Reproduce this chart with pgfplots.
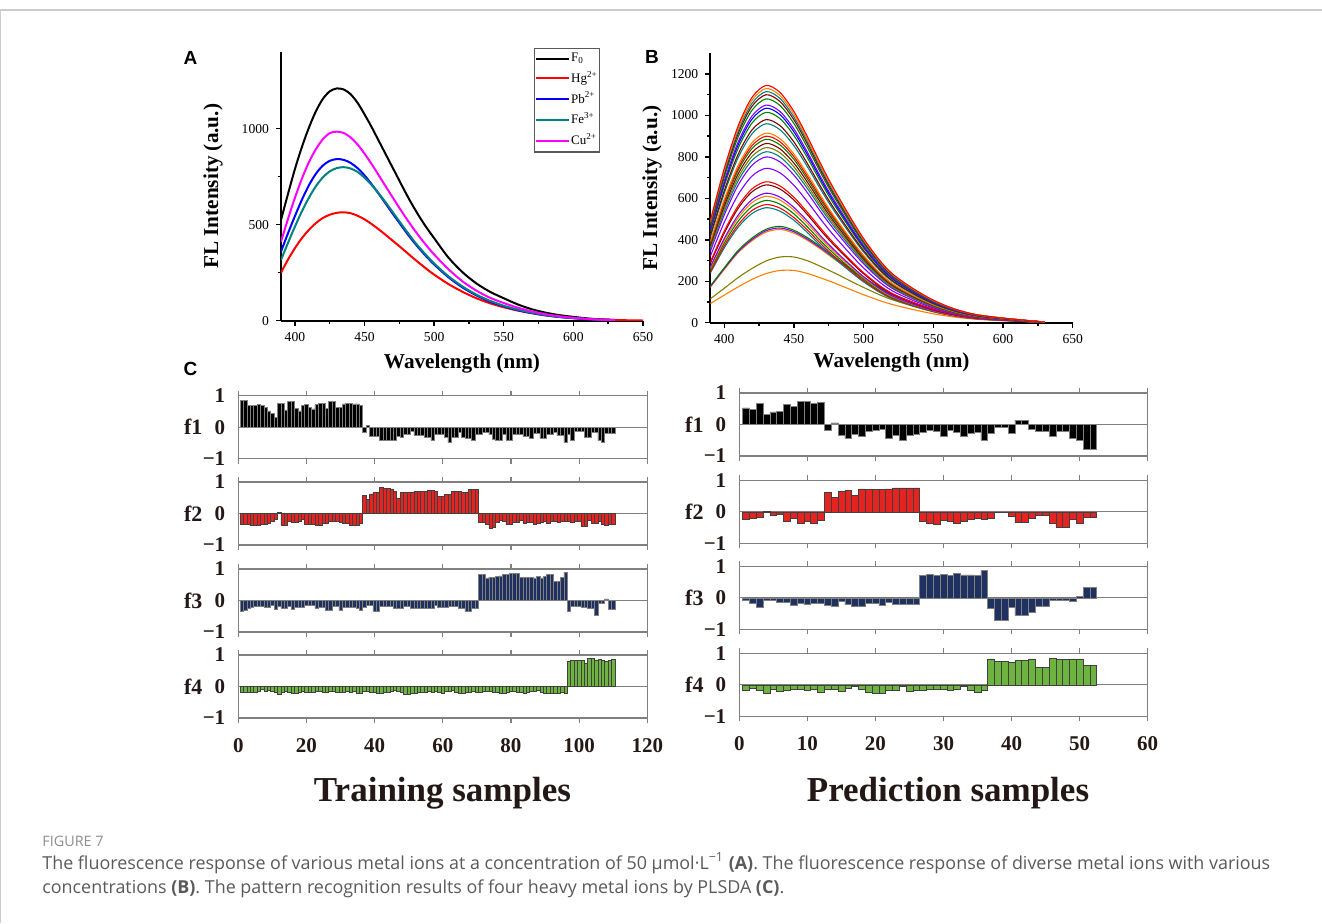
\documentclass[border=0pt]{standalone}
\usepackage{fontspec}
\setmainfont{Liberation Serif}
\newfontfamily\sansfam{Liberation Sans}
\newfontfamily\capfont{Open Sans}
\usepackage{pgfplots}
\pgfplotsset{compat=1.18}
\usepackage{pgfplotstable}

\definecolor{txt}{HTML}{231815}
\definecolor{capgray}{HTML}{5A5A5A}
\definecolor{figgray}{HTML}{8C8C8C}
\definecolor{oRed}{HTML}{FF0000}
\definecolor{oTeal}{HTML}{008080}
\definecolor{oGreen}{HTML}{008000}
\definecolor{oViolet}{HTML}{8000FF}
\definecolor{oWine}{HTML}{800000}
\definecolor{oOrange}{HTML}{FF8000}
\definecolor{oOlive}{HTML}{808000}
\definecolor{oBlue}{HTML}{0000FF}
\definecolor{oMag}{HTML}{FF00FF}
\definecolor{fRed}{HTML}{E52421}
\definecolor{fNavy}{HTML}{1E3160}
\definecolor{fGreen}{HTML}{6DB33F}

% panel A: emission spectra, 50 umol/L
\pgfplotstableread{
w   F0   Hg  Pb  Fe  Cu
390 525  250 360 316 412
395 660  318 455 405 530
400 790  378 545 490 640
405 905  430 630 570 740
410 1005 473 705 640 825
415 1090 508 765 700 893
420 1155 535 808 746 945
425 1195 552 833 778 977
430 1210 562 842 795 985
435 1205 565 838 800 978
440 1180 560 822 793 955
445 1135 547 795 775 918
450 1075 528 757 745 870
455 1010 504 712 708 817
460 940  477 663 665 760
465 870  448 612 618 702
470 800  418 560 568 645
475 730  388 510 518 588
480 660  357 460 468 533
485 595  326 413 420 481
490 535  296 370 376 432
495 480  267 330 336 387
500 430  240 293 298 345
510 331  192 228 233 270
520 255  152 175 180 207
530 196  118 133 137 158
540 151  91  100 104 120
550 117  70  75  78  92
560 85   53  55  58  68
570 60   39  40  42  49
580 42   28  28  30  34
590 29   20  19  20  23
600 20   14  13  14  15
610 12   9   8   9   9
620 7    6   5   5   5
630 4    4   3   3   3
640 nan  2   nan nan nan
650 nan  1   nan nan nan
}\dataA

% panel C: PLSDA scores, training samples
\pgfplotstableread{
n f1 f2 f3 f4
1 0.86 -0.35 -0.33 -0.17
2 0.86 -0.35 -0.30 -0.18
3 0.68 -0.35 -0.24 -0.18
4 0.70 -0.36 -0.20 -0.17
5 0.70 -0.37 -0.18 -0.18
6 0.72 -0.37 -0.18 -0.16
7 0.68 -0.35 -0.18 -0.09
8 0.62 -0.35 -0.20 -0.15
9 0.52 -0.30 -0.20 -0.12
10 0.45 -0.24 -0.14 -0.14
11 0.32 -0.18 -0.29 -0.19
12 0.75 0.03 -0.18 -0.24
13 0.75 -0.37 -0.24 -0.17
14 0.55 -0.37 -0.24 -0.15
15 0.82 -0.25 -0.18 -0.18
16 0.82 -0.29 -0.29 -0.20
17 0.60 -0.29 -0.22 -0.20
18 0.52 -0.24 -0.22 -0.19
19 0.70 -0.18 -0.22 -0.16
20 0.72 -0.35 -0.16 -0.17
21 0.64 -0.35 -0.15 -0.18
22 0.58 -0.35 -0.15 -0.18
23 0.72 -0.37 -0.24 -0.15
24 0.76 -0.38 -0.22 -0.16
25 0.76 -0.30 -0.22 -0.18
26 0.60 -0.30 -0.30 -0.18
27 0.82 -0.25 -0.30 -0.16
28 0.82 -0.25 -0.18 -0.14
29 0.62 -0.26 -0.18 -0.17
30 0.62 -0.27 -0.30 -0.18
31 0.74 -0.30 -0.20 -0.19
32 0.76 -0.30 -0.20 -0.15
33 0.76 -0.38 -0.20 -0.17
34 0.74 -0.38 -0.21 -0.16
35 0.74 -0.36 -0.25 -0.20
36 0.70 -0.32 -0.30 -0.21
37 -0.15 0.58 -0.22 -0.15
38 0.06 0.45 -0.15 -0.14
39 -0.28 0.62 -0.16 -0.18
40 -0.30 0.68 -0.33 -0.19
41 -0.30 0.68 -0.33 -0.21
42 -0.42 0.82 -0.18 -0.20
43 -0.42 0.80 -0.18 -0.17
44 -0.42 0.79 -0.18 -0.18
45 -0.42 0.78 -0.18 -0.15
46 -0.40 0.70 -0.24 -0.12
47 -0.28 0.48 -0.24 -0.16
48 -0.32 0.68 -0.24 -0.18
49 -0.24 0.66 -0.18 -0.25
50 -0.24 0.67 -0.18 -0.26
51 -0.13 0.66 -0.24 -0.22
52 -0.26 0.70 -0.24 -0.21
53 -0.26 0.70 -0.24 -0.18
54 -0.26 0.70 -0.24 -0.17
55 -0.33 0.70 -0.24 -0.19
56 -0.33 0.74 -0.26 -0.16
57 -0.42 0.73 -0.26 -0.17
58 -0.22 0.70 -0.15 -0.15
59 -0.22 0.54 -0.22 -0.18
60 -0.24 0.54 -0.22 -0.20
61 -0.33 0.60 -0.22 -0.16
62 -0.48 0.60 -0.18 -0.14
63 -0.33 0.71 -0.18 -0.12
64 -0.33 0.71 -0.18 -0.19
65 -0.15 0.70 -0.24 -0.21
66 -0.32 0.66 -0.24 -0.20
67 -0.35 0.66 -0.33 -0.18
68 -0.35 0.76 -0.33 -0.17
69 -0.42 0.76 -0.24 -0.15
70 -0.24 0.76 -0.24 -0.18
71 -0.24 -0.29 0.83 -0.17
72 -0.15 -0.29 0.83 -0.16
73 -0.15 -0.35 0.72 -0.14
74 -0.24 -0.47 0.74 -0.16
75 -0.37 -0.45 0.74 -0.17
76 -0.40 -0.29 0.76 -0.19
77 -0.40 -0.22 0.78 -0.21
78 -0.22 -0.24 0.83 -0.20
79 -0.40 -0.35 0.83 -0.17
80 -0.40 -0.35 0.85 -0.16
81 -0.22 -0.28 0.87 -0.14
82 -0.22 -0.28 0.87 -0.17
83 -0.22 -0.22 0.74 -0.18
84 -0.30 -0.30 0.74 -0.20
85 -0.30 -0.28 0.74 -0.19
86 -0.35 -0.28 0.74 -0.16
87 -0.20 -0.35 0.72 -0.15
88 -0.20 -0.30 0.77 -0.13
89 -0.35 -0.28 0.72 -0.18
90 -0.35 -0.26 0.77 -0.20
91 -0.22 -0.30 0.83 -0.21
92 -0.22 -0.26 0.83 -0.20
93 -0.15 -0.26 0.61 -0.20
94 -0.26 -0.29 0.61 -0.21
95 -0.26 -0.26 0.74 -0.18
96 -0.48 -0.25 0.90 -0.20
97 -0.24 -0.24 -0.33 0.80
98 -0.40 -0.28 -0.18 0.84
99 -0.13 -0.24 -0.18 0.84
100 -0.13 -0.24 -0.18 0.84
101 -0.13 -0.40 -0.22 0.84
102 -0.33 -0.40 -0.22 0.73
103 -0.33 -0.22 -0.24 0.88
104 -0.15 -0.32 -0.26 0.88
105 -0.15 -0.32 -0.46 0.84
106 -0.43 -0.24 -0.10 0.86
107 -0.48 -0.34 -0.10 0.84
108 -0.20 -0.36 0.05 0.80
109 -0.20 -0.34 -0.27 0.84
110 -0.20 -0.34 -0.27 0.86
}\dataT

% panel C: PLSDA scores, prediction samples
\pgfplotstableread{
n f1 f2 f3 f4
1 0.53 -0.25 -0.08 -0.17
2 0.47 -0.20 -0.16 -0.10
3 0.68 -0.16 -0.29 -0.18
4 0.33 0.02 -0.08 -0.26
5 0.40 -0.12 -0.09 -0.15
6 0.42 -0.09 -0.13 -0.20
7 0.64 -0.30 -0.14 -0.17
8 0.58 -0.20 -0.24 -0.13
9 0.73 -0.36 -0.19 -0.15
10 0.73 -0.30 -0.22 -0.18
11 0.67 -0.36 -0.19 -0.13
12 0.71 -0.27 -0.19 -0.23
13 -0.18 0.62 -0.25 -0.15
14 0.05 0.46 -0.27 -0.15
15 -0.33 0.65 -0.11 -0.20
16 -0.43 0.67 -0.22 -0.12
17 -0.30 0.51 -0.27 -0.04
18 -0.38 0.73 -0.27 -0.15
19 -0.20 0.70 -0.19 -0.24
20 -0.18 0.72 -0.18 -0.26
21 -0.16 0.71 -0.24 -0.26
22 -0.43 0.73 -0.14 -0.17
23 -0.33 0.76 -0.22 -0.19
24 -0.49 0.76 -0.22 -0.06
25 -0.33 0.76 -0.22 -0.20
26 -0.30 0.76 -0.22 -0.18
27 -0.24 -0.30 0.70 -0.17
28 -0.18 -0.38 0.75 -0.13
29 -0.20 -0.39 0.70 -0.15
30 -0.36 -0.27 0.75 -0.13
31 -0.18 -0.30 0.70 -0.18
32 -0.24 -0.38 0.77 -0.15
33 -0.36 -0.30 0.73 -0.06
34 -0.27 -0.23 0.73 -0.18
35 -0.25 -0.20 0.70 -0.23
36 -0.49 -0.23 0.88 -0.17
37 -0.27 -0.22 -0.32 0.82
38 -0.09 0 -0.70 0.74
39 -0.09 0 -0.70 0.74
40 -0.27 -0.14 -0.30 0.71
41 0.14 -0.34 -0.54 0.78
42 0.14 -0.34 -0.54 0.78
43 -0.16 -0.20 -0.45 0.82
44 -0.22 -0.12 -0.27 0.55
45 -0.22 -0.12 -0.27 0.55
46 -0.36 -0.36 -0.09 0.85
47 -0.22 -0.49 -0.08 0.80
48 -0.22 -0.49 -0.08 0.80
49 -0.43 -0.25 -0.11 0.82
50 -0.49 -0.36 0.05 0.82
51 -0.79 -0.17 0.32 0.62
52 -0.79 -0.17 0.32 0.62
}\dataP

\pgfplotsset{
  spec/.style={
    scale only axis, anchor=south west,
    xmin=390, xmax=650, xtick={400,450,...,650}, minor x tick num=1,
    ymin=0,
    axis lines=left, axis line style={-, line width=0.9pt},
    tick align=outside, major tick length=2.5pt, minor tick length=1.5pt,
    tick style={black, line width=0.7pt},
    tick label style={font=\fontsize{6.8}{8}\selectfont},
    /pgf/number format/assume math mode=true,
    /pgf/number format/1000 sep={},
    label style={font=\fontsize{10.6}{12}\selectfont\bfseries},
    xlabel={Wavelength (nm)}, ylabel={FL Intensity (a.u.)},
  },
  pls/.style={
    scale only axis, anchor=south west, height=31.5pt,
    ymin=-1, ymax=1, ytick={-1,0,1}, yticklabels={−1,0,1},
    ytick style={draw=none},
    axis line style={gray, line width=0.6pt},
    tick align=inside, xtick style={gray, line width=0.6pt}, major tick length=2.5pt,
    tick label style={font=\fontsize{10.5}{11}\selectfont\bfseries, text=txt},
    yticklabel style={xshift=-3pt},
    xticklabel style={yshift=-4pt},
    /pgf/number format/assume math mode=true,
    extra y ticks={0}, extra y tick labels={},
    extra y tick style={grid=major, major grid style={draw=gray, line width=0.5pt}},
    ybar, bar width=1,
    every axis y label/.style={at={(rel axis cs:-0.11,0.5)}, anchor=center,
      font=\fontsize{11}{12}\selectfont\bfseries, text=txt},
  },
  tleft/.style={pls, width=204.5pt, xmin=0, xmax=120, xtick={0,20,...,120}},
  pright/.style={pls, width=204.2pt, xmin=0, xmax=60, xtick={0,10,...,60}},
}

\begin{document}
\begin{tikzpicture}
\path[use as bounding box] (0,0) rectangle (661pt,461.5pt);
\draw[gray!40, line width=0.6pt] (0,456.5pt) -- (661pt,456.5pt);
\draw[gray!40, line width=0.6pt] (0.3pt,0) -- (0.3pt,456.5pt);

% ---- A ----
\begin{axis}[spec, at={(140.5pt,301.15pt)}, width=181pt, height=134.35pt,
  ymax=1400, ytick={0,500,1000}, minor y tick num=1,
  xlabel style={at={(axis description cs:0.5,-0.16)}, anchor=center},
  ylabel style={at={(axis description cs:-0.188,0.5)}, anchor=center},
  legend style={at={(0.881,1.015)}, anchor=north east, draw=gray!70!black,
    line width=0.6pt, font=\fontsize{6.5}{7}\selectfont,
    inner xsep=0pt, inner ysep=1.5pt, row sep=2.2pt, column sep=0pt,
    nodes={inner xsep=0.8pt, inner ysep=0.6pt}, cells={anchor=west}},
  legend image code/.code={\draw[#1, line width=1pt] (-0.02cm,0cm) -- (0.56cm,0cm);},
]
\addplot[black, line width=1pt, smooth] table[x=w, y=F0] {\dataA};
\addplot[oRed, line width=1pt, smooth] table[x=w, y=Hg] {\dataA};
\addplot[oBlue, line width=1pt, smooth] table[x=w, y=Pb] {\dataA};
\addplot[oTeal, line width=1pt, smooth] table[x=w, y=Fe] {\dataA};
\addplot[oMag, line width=1pt, smooth] table[x=w, y=Cu] {\dataA};
\legend{F\textsubscript{0}, Hg\textsuperscript{2+}, Pb\textsuperscript{2+}, Fe\textsuperscript{3+}, Cu\textsuperscript{2+}}
\end{axis}

% ---- B ----
\begin{axis}[spec, at={(355.15pt,300.15pt)}, width=181.2pt, height=134.7pt,
  ymax=1300, ytick={0,200,...,1200}, minor y tick num=1,
  xlabel style={at={(axis description cs:0.5,-0.146)}, anchor=center},
  ylabel style={at={(axis description cs:-0.161,0.5)}, anchor=center},
  every axis plot/.append style={line width=0.55pt, smooth},
]
\addplot[oOrange] coordinates {(390,92)(400,133)(410,173)(420,209)(430,237)(440,252)(450,252)(460,237)(470,214)(480,189)(500,135)(520,89)(550,43)(580,17)(630,2)};
\addplot[oOlive] coordinates {(390,115)(400,166)(410,218)(420,262)(430,298)(440,317)(450,317)(460,298)(470,269)(480,237)(500,170)(520,112)(550,54)(580,21)(630,2)};
\addplot[oOrange] coordinates {(390,171)(400,257)(410,338)(420,396)(430,437)(440,450)(450,432)(460,396)(470,351)(480,302)(500,212)(520,135)(550,63)(580,23)(630,2)};
\addplot[oViolet] coordinates {(390,174)(400,261)(410,343)(420,402)(430,444)(440,457)(450,439)(460,402)(470,357)(480,307)(500,215)(520,137)(550,64)(580,23)(630,2)};
\addplot[oGreen] coordinates {(390,177)(400,265)(410,349)(420,409)(430,451)(440,465)(450,446)(460,409)(470,363)(480,312)(500,219)(520,140)(550,65)(580,23)(630,2)};
\addplot[oTeal] coordinates {(390,239)(400,361)(410,461)(420,527)(430,555)(440,538)(450,494)(460,433)(470,366)(480,305)(500,197)(520,117)(550,53)(580,19)(630,2)};
\addplot[oRed] coordinates {(390,245)(400,371)(410,473)(420,542)(430,570)(440,553)(450,507)(460,445)(470,376)(480,314)(500,202)(520,120)(550,54)(580,20)(630,2)};
\addplot[oGreen] coordinates {(390,254)(400,384)(410,490)(420,561)(430,590)(440,572)(450,525)(460,460)(470,389)(480,325)(500,209)(520,124)(550,56)(580,21)(630,2)};
\addplot[oOrange] coordinates {(390,262)(400,397)(410,506)(420,580)(430,610)(440,592)(450,543)(460,476)(470,403)(480,336)(500,217)(520,128)(550,58)(580,21)(630,2)};
\addplot[oViolet] coordinates {(390,269)(400,406)(410,519)(420,594)(430,625)(440,606)(450,556)(460,488)(470,413)(480,344)(500,222)(520,131)(550,59)(580,22)(630,2)};
\addplot[oWine] coordinates {(390,286)(400,432)(410,552)(420,632)(430,665)(440,645)(450,592)(460,519)(470,439)(480,366)(500,236)(520,140)(550,63)(580,23)(630,2)};
\addplot[oRed] coordinates {(390,292)(400,442)(410,564)(420,646)(430,680)(440,660)(450,605)(460,530)(470,449)(480,374)(500,241)(520,143)(550,65)(580,24)(630,2)};
\addplot[oViolet] coordinates {(390,320)(400,484)(410,618)(420,708)(430,745)(440,723)(450,663)(460,581)(470,492)(480,410)(500,264)(520,156)(550,71)(580,26)(630,2)};
\addplot[oViolet] coordinates {(390,344)(400,520)(410,664)(420,760)(430,800)(440,776)(450,712)(460,624)(470,528)(480,440)(500,284)(520,168)(550,76)(580,28)(630,2)};
\addplot[oTeal] coordinates {(390,355)(400,536)(410,685)(420,784)(430,825)(440,800)(450,734)(460,644)(470,545)(480,454)(500,293)(520,173)(550,78)(580,29)(630,2)};
\addplot[oOlive] coordinates {(390,363)(400,549)(410,701)(420,803)(430,845)(440,820)(450,752)(460,659)(470,558)(480,465)(500,300)(520,177)(550,80)(580,30)(630,3)};
\addplot[oWine] coordinates {(390,372)(400,562)(410,718)(420,822)(430,865)(440,839)(450,770)(460,675)(470,571)(480,476)(500,307)(520,182)(550,82)(580,30)(630,3)};
\addplot[oGreen] coordinates {(390,381)(400,575)(410,735)(420,841)(430,885)(440,858)(450,788)(460,690)(470,584)(480,487)(500,314)(520,186)(550,84)(580,31)(630,3)};
\addplot[oRed] coordinates {(390,387)(400,585)(410,747)(420,855)(430,900)(440,873)(450,801)(460,702)(470,594)(480,495)(500,320)(520,189)(550,86)(580,32)(630,3)};
\addplot[oOrange] coordinates {(390,393)(400,595)(410,759)(420,869)(430,915)(440,888)(450,814)(460,714)(470,604)(480,503)(500,325)(520,192)(550,87)(580,32)(630,3)};
\addplot[oTeal] coordinates {(390,413)(400,624)(410,797)(420,912)(430,960)(440,931)(450,854)(460,749)(470,634)(480,528)(500,341)(520,202)(550,91)(580,34)(630,3)};
\addplot[oWine] coordinates {(390,421)(400,637)(410,813)(420,931)(430,980)(440,951)(450,872)(460,764)(470,647)(480,539)(500,348)(520,206)(550,93)(580,34)(630,3)};
\addplot[oGreen] coordinates {(390,436)(400,660)(410,842)(420,964)(430,1015)(440,985)(450,903)(460,792)(470,670)(480,558)(500,360)(520,213)(550,96)(580,36)(630,3)};
\addplot[oBlue] coordinates {(390,445)(400,673)(410,859)(420,983)(430,1035)(440,1004)(450,921)(460,807)(470,683)(480,569)(500,367)(520,217)(550,98)(580,36)(630,3)};
\addplot[oViolet] coordinates {(390,452)(400,683)(410,872)(420,998)(430,1050)(440,1019)(450,935)(460,819)(470,693)(480,578)(500,373)(520,221)(550,100)(580,37)(630,3)};
\addplot[oGreen] coordinates {(390,464)(400,702)(410,896)(420,1026)(430,1080)(440,1048)(450,961)(460,842)(470,713)(480,594)(500,383)(520,227)(550,103)(580,38)(630,3)};
\addplot[oWine] coordinates {(390,473)(400,715)(410,913)(420,1045)(430,1100)(440,1067)(450,979)(460,858)(470,726)(480,605)(500,391)(520,231)(550,105)(580,39)(630,3)};
\addplot[oTeal] coordinates {(390,479)(400,725)(410,925)(420,1059)(430,1115)(440,1082)(450,992)(460,870)(470,736)(480,613)(500,396)(520,234)(550,106)(580,39)(630,3)};
\addplot[oOrange] coordinates {(390,486)(400,735)(410,938)(420,1074)(430,1130)(440,1096)(450,1006)(460,881)(470,746)(480,622)(500,401)(520,237)(550,107)(580,40)(630,3)};
\addplot[oRed] coordinates {(390,492)(400,744)(410,950)(420,1088)(430,1145)(440,1111)(450,1019)(460,893)(470,756)(480,630)(500,406)(520,240)(550,109)(580,40)(630,3)};
\end{axis}

% ---- C: training ----
\begin{axis}[tleft, at={(119.15pt,232.15pt)}, xticklabels={}, ylabel={f1}]
\addplot[fill=black, draw=gray, line width=0.3pt] table[x=n, y=f1] {\dataT};
\end{axis}
\begin{axis}[tleft, at={(119.15pt,189pt)}, xticklabels={}, ylabel={f2}]
\addplot[fill=fRed, draw=black!75, line width=0.3pt] table[x=n, y=f2] {\dataT};
\end{axis}
\begin{axis}[tleft, at={(119.15pt,145.5pt)}, xticklabels={}, ylabel={f3}]
\addplot[fill=fNavy, draw=gray, line width=0.3pt] table[x=n, y=f3] {\dataT};
\end{axis}
\begin{axis}[tleft, at={(119.15pt,102.5pt)}, ylabel={f4}]
\addplot[fill=fGreen, draw=black!75, line width=0.3pt] table[x=n, y=f4] {\dataT};
\end{axis}

% ---- C: prediction ----
\begin{axis}[pright, at={(369.65pt,233.5pt)}, xticklabels={}, ylabel={f1}]
\addplot[fill=black, draw=gray, line width=0.3pt] table[x=n, y=f1] {\dataP};
\end{axis}
\begin{axis}[pright, at={(369.65pt,189.85pt)}, xticklabels={}, ylabel={f2}]
\addplot[fill=fRed, draw=black!75, line width=0.3pt] table[x=n, y=f2] {\dataP};
\end{axis}
\begin{axis}[pright, at={(369.65pt,146.85pt)}, xticklabels={}, ylabel={f3}]
\addplot[fill=fNavy, draw=gray, line width=0.3pt] table[x=n, y=f3] {\dataP};
\end{axis}
\begin{axis}[pright, at={(369.65pt,103.35pt)}, ylabel={f4}]
\addplot[fill=fGreen, draw=black!75, line width=0.3pt] table[x=n, y=f4] {\dataP};
\end{axis}

% panel letters and titles
\node[font=\sansfam\bfseries\fontsize{9.5}{10}\selectfont] at (95.25pt,432.5pt) {A};
\node[font=\sansfam\bfseries\fontsize{9.5}{10}\selectfont] at (326pt,433.25pt) {B};
\node[font=\sansfam\bfseries\fontsize{9.5}{10}\selectfont] at (95.25pt,277.25pt) {C};
\node[anchor=base, font=\bfseries\fontsize{17.5}{18}\selectfont, text=txt] at (221.25pt,61pt) {Training samples};
\node[anchor=base, font=\bfseries\fontsize{17.5}{18}\selectfont, text=txt] at (474pt,61pt) {Prediction samples};

% caption
\node[anchor=base west, inner sep=0pt, font=\capfont\fontsize{7.2}{8}\selectfont, text=figgray] at (21pt,38.5pt) {FIGURE 7};
\node[anchor=base west, inner sep=0pt, font=\capfont\fontsize{8.95}{10}\selectfont, text=capgray] at (21pt,27pt)
  {The fluorescence response of various metal ions at a concentration of 50 μmol·L\textsuperscript{−1} \textbf{(A)}. The fluorescence response of diverse metal ions with various};
\node[anchor=base west, inner sep=0pt, font=\capfont\fontsize{8.95}{10}\selectfont, text=capgray] at (21pt,15pt)
  {concentrations \textbf{(B)}. The pattern recognition results of four heavy metal ions by PLSDA \textbf{(C)}.};
\end{tikzpicture}
\end{document}
